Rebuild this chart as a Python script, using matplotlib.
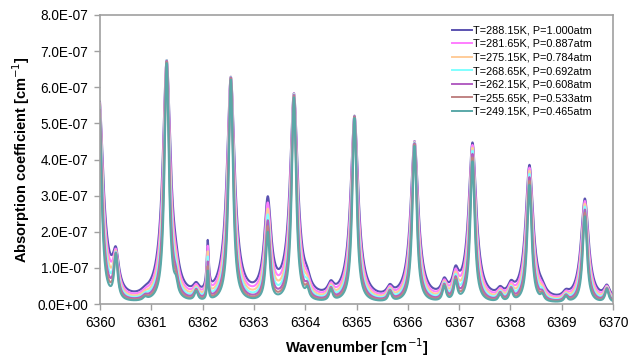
import numpy as np
import matplotlib
matplotlib.use("Agg")
import matplotlib.pyplot as plt
from matplotlib.ticker import FuncFormatter, MultipleLocator

plt.rcParams['font.family'] = ['Liberation Sans', 'DejaVu Sans']

# Measurement conditions (temperature in K, pressure in atm)
temps = [288.15, 281.65, 275.15, 268.65, 262.15, 255.65, 249.15]
press = [1.000, 0.887, 0.784, 0.692, 0.608, 0.533, 0.465]
colors = ['#5b52b0', '#ff7dff', '#ffcc99', '#80ffff', '#b25fc2', '#c08383', '#5aa8a8']

# Line list: centre [cm-1], peak height at 288.15 K / 1 atm [cm-1],
# air-broadened half width at 1 atm [cm-1], lower-state energy [cm-1]
line_pos = [6359.98, 6360.31, 6360.88, 6361.30, 6361.48, 6361.875, 6362.10,
            6362.55, 6363.27, 6363.78, 6364.04, 6364.50, 6364.96, 6365.65,
            6366.13, 6366.71, 6366.93, 6367.26, 6367.80, 6368.01, 6368.37,
            6368.62, 6369.08, 6369.45, 6369.88, 6370.25]
line_peak = [5.7e-7, 1.0e-7, 0.08e-7, 6.6e-7, 0.3e-7, 0.25e-7, 1.35e-7,
             6.15e-7, 2.65e-7, 5.65e-7, 0.25e-7, 0.3e-7, 5.1e-7, 0.25e-7,
             4.4e-7, 0.4e-7, 0.6e-7, 4.35e-7, 0.2e-7, 0.3e-7, 3.75e-7,
             0.15e-7, 0.15e-7, 2.85e-7, 0.35e-7, 0.5e-7]
line_width = [0.10, 0.07, 0.09, 0.09, 0.07, 0.07, 0.02,
              0.09, 0.08, 0.09, 0.07, 0.07, 0.09, 0.07,
              0.09, 0.07, 0.07, 0.09, 0.07, 0.07, 0.09,
              0.07, 0.07, 0.09, 0.07, 0.09]
line_elow = [280, 0, 200, 280, 300, 200, 650,
             280, 700, 280, 200, 200, 280, 200,
             300, 200, 400, 420, 200, 200, 460,
             200, 200, 500, 200, 300]

xtick_vals = list(range(6360, 6371))

C2 = 1.4388
T_REF, P_REF = temps[0], press[0]
GAMMA_D = 0.010


def voigt_hwhm(gl):
    return 0.5346 * gl + np.sqrt(0.2166 * gl ** 2 + GAMMA_D ** 2)


def spectrum(nu, T, P):
    total = np.zeros_like(nu)
    for c, h, g, e in zip(line_pos, line_peak, line_width, line_elow):
        g_ref = voigt_hwhm(g * P_REF * (296.0 / T_REF) ** 0.75)
        g_k = voigt_hwhm(g * P * (296.0 / T) ** 0.75)
        ratio = (T_REF / T) ** 1.5 * np.exp(-C2 * e * (1.0 / T - 1.0 / T_REF))
        dens = (P / T) / (P_REF / T_REF)
        total += h * ratio * dens * g_ref * g_k / ((nu - c) ** 2 + g_k ** 2)
    return total


nu = np.linspace(6360, 6370, 3001)

fig = plt.figure(figsize=(6.34, 3.63), dpi=100)
ax = fig.add_axes([0.1577, 0.1625, 0.8093, 0.7962])

for T, P, col in zip(temps, press, colors):
    ax.plot(nu, spectrum(nu, T, P), color=col, lw=1.5,
            label=f"T={T:.2f}K, P={P:.3f}atm")

ax.set_xlim(6360, 6370)
ax.set_ylim(0, 8e-7)
ax.set_xticks(xtick_vals)
ax.yaxis.set_major_locator(MultipleLocator(1e-7))
ax.yaxis.set_major_formatter(FuncFormatter(lambda v, p: f"{v:.1E}"))

for s in ax.spines.values():
    s.set_color('#a0a0a0')
    s.set_linewidth(1.2)
ax.tick_params(axis='both', direction='out', color='#a0a0a0', length=4,
               width=1.0, labelsize=9.8, pad=4.3)

ax.set_xlabel("Wavenumber [cm$^{-1}$]", fontsize=10.5, fontweight='bold', labelpad=5)
ax.set_ylabel("Absorption coefficient [cm$^{-1}$]", fontsize=10.5, fontweight='bold', labelpad=4)

leg = ax.legend(loc='upper left', bbox_to_anchor=(0.678, 0.979), frameon=False,
                fontsize=7.8, handlelength=1.8, handletextpad=0.1,
                labelspacing=0.33, borderaxespad=0.0)
for line in leg.get_lines():
    line.set_linewidth(1.4)

fig.savefig("out.png", dpi=100)
